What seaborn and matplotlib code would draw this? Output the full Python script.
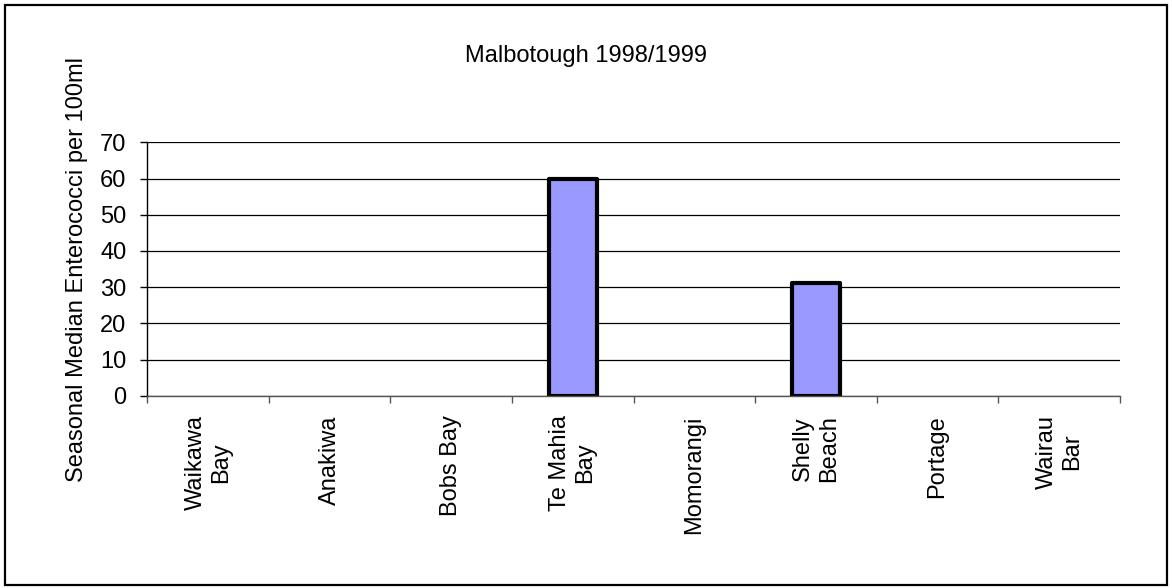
import matplotlib
matplotlib.use("Agg")
import matplotlib.pyplot as plt
import matplotlib.patches as mpatches
import seaborn as sns
import numpy as np

# data
sites = ["Waikawa\nBay", "Anakiwa", "Bobs Bay", "Te Mahia\nBay",
         "Momorangi", "Shelly\nBeach", "Portage", "Wairau\nBar"]
median_entero = [0, 0, 0, 60, 0, 31, 0, 0]
y_ticks = [0, 10, 20, 30, 40, 50, 60, 70]

sns.set_style("white")
plt.rcParams["font.family"] = ["Liberation Sans", "DejaVu Sans"]
plt.rcParams["text.color"] = "black"
plt.rcParams["axes.labelcolor"] = "black"
plt.rcParams["xtick.color"] = "black"
plt.rcParams["ytick.color"] = "black"

fig = plt.figure(figsize=(11.72, 5.88), dpi=100)
ax = fig.add_axes([0.1257, 0.327, 0.9556 - 0.1257, 0.758 - 0.327])

sns.barplot(x=sites, y=median_entero, color="#9999ff", saturation=1,
            width=0.4, edgecolor="black", linewidth=3.0, ax=ax)

# hide outline of empty bars so they don't draw a line on the axis
for p in ax.patches:
    p.set_joinstyle("round")
    if p.get_height() == 0:
        p.set_linewidth(0)

ax.set_ylim(0, 70)
ax.set_xlim(-0.5, len(sites) - 0.5)
ax.set_yticks(y_ticks)
ax.yaxis.grid(True, color="black", linewidth=0.9)
ax.set_axisbelow(True)

for side in ["top", "right"]:
    ax.spines[side].set_visible(False)
ax.spines["left"].set_color("black")
ax.spines["left"].set_linewidth(1.0)
ax.spines["bottom"].set_color("#555555")
ax.spines["bottom"].set_linewidth(1.0)

ax.tick_params(axis="y", direction="out", length=5, width=1, pad=10,
               labelsize=17, left=True, color="black")
ax.set_xticks(np.arange(-0.5, len(sites), 1.0), minor=True)
ax.tick_params(axis="x", which="minor", direction="out", length=5,
               width=1, bottom=True, color="#555555")
ax.tick_params(axis="x", which="major", length=0, pad=14, labelsize=17)
ax.set_xticks(range(len(sites)))
ax.set_xticklabels(sites, rotation=90, ha="center", va="top",
                   multialignment="center")

ax.set_ylabel("Seasonal Median Enterococci per 100ml", fontsize=17)
ax.yaxis.set_label_coords(-0.061, 0.5)
ax.set_xlabel("")

fig.text(0.5, 1 - 62 / 588, "Malbotough 1998/1999", ha="center",
         va="baseline", fontsize=17)

# outer chart frame
fig.patches.append(mpatches.Rectangle((4.5 / 1172, 3 / 588),
                                      1162.5 / 1172, 580.5 / 588,
                                      transform=fig.transFigure,
                                      fill=False, edgecolor="black",
                                      linewidth=1.6))

fig.savefig("out.png", dpi=100)
